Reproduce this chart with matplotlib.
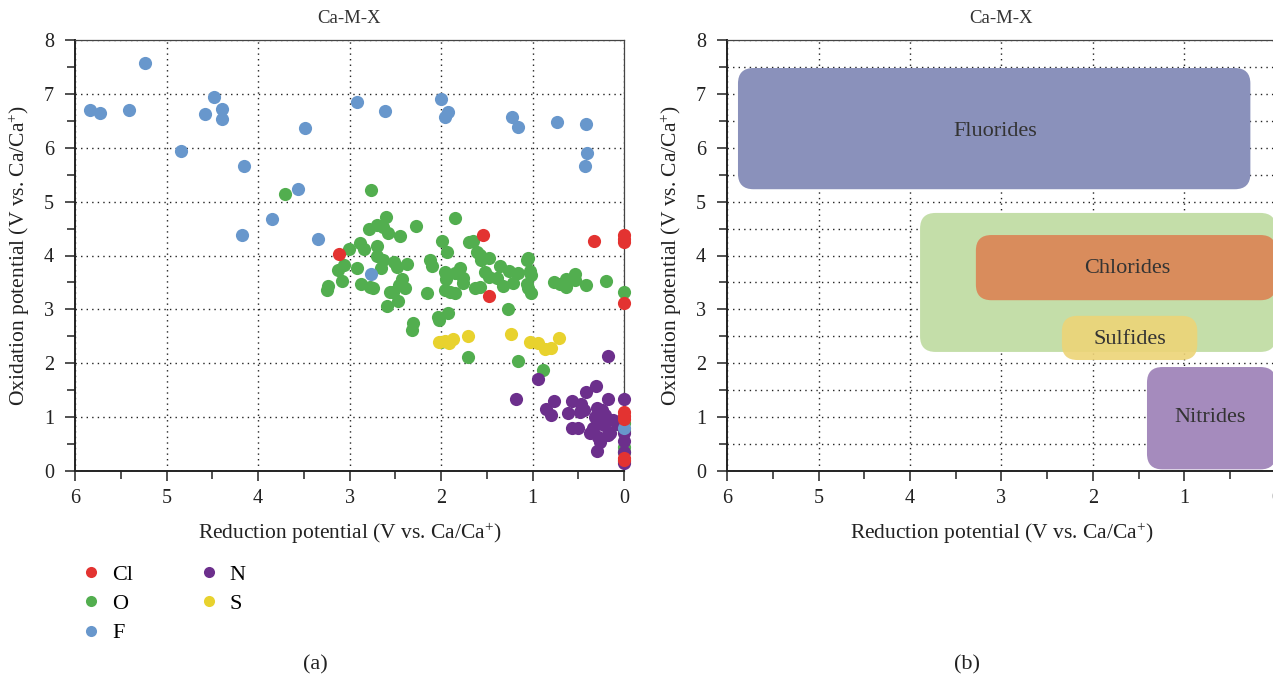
import matplotlib
matplotlib.use("Agg")
import matplotlib.pyplot as plt
from matplotlib.patches import FancyBboxPatch
from matplotlib.ticker import MultipleLocator
from matplotlib.lines import Line2D

plt.rcParams['font.family'] = ['Liberation Serif', 'DejaVu Serif']
plt.rcParams['mathtext.fontset'] = 'custom'
plt.rcParams['mathtext.rm'] = 'Liberation Serif'
plt.rcParams['mathtext.it'] = 'Liberation Serif:italic'

# --- datos (reducción, oxidación) ---
cl_x = [3.12, 1.54, 1.48, 0.33, 0.0, 0.0, 0.0, 0.0, 0.0, 0.0, 0.0, 0.0, 0.0]
cl_y = [4.03, 4.38, 3.25, 4.27, 4.38, 4.31, 4.25, 3.11, 1.10, 1.03, 0.96, 0.25, 0.20]

o_x = [2.76, 2.60, 2.79, 2.70, 2.63, 2.58, 2.45, 2.27, 1.85, 1.99, 1.93, 2.89, 2.84,
       2.70, 3.01, 2.70, 2.63, 2.66, 2.51, 2.48, 2.37, 3.06, 3.13, 2.92, 3.08, 3.23,
       3.25, 2.87, 2.78, 2.74, 2.43, 2.46, 2.39, 2.56, 2.52, 2.15, 2.59, 2.47, 2.12,
       2.10, 1.96, 1.94, 1.85, 1.79, 1.76, 1.76, 1.96, 1.90, 1.85, 1.69, 1.92, 2.03,
       2.02, 2.31, 2.32, 1.70, 1.27, 1.16, 0.89, 2.00, 1.65, 1.61, 1.57, 1.56, 1.48,
       1.52, 1.48, 1.36, 1.39, 1.26, 1.16, 1.21, 1.32, 1.63, 1.57, 1.06, 1.05, 1.03,
       1.02, 1.06, 1.05, 1.02, 0.76, 0.70, 0.63, 0.63, 0.54, 0.54, 0.42, 0.20, 0.0,
       3.70, 0.0, 0.0, 0.0, 0.0, 0.0]
o_y = [5.21, 4.72, 4.50, 4.56, 4.53, 4.41, 4.37, 4.55, 4.70, 4.27, 4.07, 4.24, 4.12,
       4.18, 4.12, 3.99, 3.91, 3.77, 3.88, 3.78, 3.85, 3.82, 3.73, 3.76, 3.53, 3.44,
       3.36, 3.48, 3.42, 3.40, 3.56, 3.46, 3.39, 3.33, 3.33, 3.30, 3.07, 3.16, 3.91,
       3.80, 3.70, 3.57, 3.67, 3.76, 3.59, 3.49, 3.36, 3.32, 3.30, 4.25, 2.94, 2.86,
       2.80, 2.74, 2.62, 2.11, 3.00, 2.04, 1.87, 2.40, 4.27, 4.07, 4.01, 3.91, 3.95,
       3.70, 3.61, 3.81, 3.59, 3.72, 3.67, 3.49, 3.43, 3.39, 3.41, 3.91, 3.95, 3.72,
       3.64, 3.48, 3.39, 3.31, 3.51, 3.48, 3.56, 3.41, 3.65, 3.54, 3.45, 3.52, 3.33,
       5.14, 0.90, 0.75, 0.45, 0.35, 0.18]

f_x = [5.84, 5.73, 5.41, 5.23, 4.84, 4.58, 4.48, 4.39, 4.39, 4.15, 4.17, 3.85, 3.56,
       3.49, 3.34, 2.92, 2.61, 2.77, 2.00, 1.96, 1.92, 1.22, 1.16, 0.73, 0.41, 0.40,
       0.43, 0.0]
f_y = [6.70, 6.64, 6.70, 7.58, 5.94, 6.62, 6.94, 6.71, 6.53, 5.67, 4.38, 4.67, 5.23,
       6.37, 4.30, 6.84, 6.68, 3.65, 6.91, 6.57, 6.67, 6.57, 6.38, 6.48, 6.44, 5.91,
       5.66, 0.80]

n_x = [0.18, 0.94, 1.18, 0.31, 0.41, 0.76, 0.57, 0.47, 0.17, 0.0, 0.85, 0.80, 0.61,
       0.48, 0.44, 0.30, 0.24, 0.21, 0.26, 0.57, 0.50, 0.30, 0.34, 0.37, 0.28, 0.26,
       0.17, 0.15, 0.29, 0.08, 0.0, 0.0, 0.0, 0.0, 0.12, 0.22, 0.32]
n_y = [2.14, 1.70, 1.34, 1.58, 1.47, 1.30, 1.30, 1.24, 1.33, 1.33, 1.15, 1.04, 1.07,
       1.10, 1.13, 1.17, 1.13, 1.04, 1.04, 0.79, 0.79, 0.88, 0.79, 0.70, 0.64, 0.54,
       0.67, 0.70, 0.37, 0.88, 0.70, 0.55, 0.35, 0.15, 0.95, 0.85, 1.00]

s_x = [2.02, 1.91, 1.87, 1.70, 1.23, 1.03, 0.94, 0.86, 0.80, 0.71, 1.96]
s_y = [2.40, 2.37, 2.45, 2.50, 2.54, 2.40, 2.38, 2.26, 2.29, 2.46, 2.42]

# regiones del panel (b)
regiones = ["Fluorides", None, "Chlorides", "Sulfides", "Nitrides"]
reg_x0 = [0.28, 0.0, 0.0, 0.86, 0.0]
reg_x1 = [5.88, 3.89, 3.28, 2.34, 1.41]
reg_y0 = [5.23, 2.21, 3.17, 2.06, 0.03]
reg_y1 = [7.48, 4.79, 4.38, 2.88, 1.93]
reg_col = ['#8a91bb', '#c4dea9', '#d98c5c', '#edd477', '#a58bbd']
reg_alpha = [1.0, 1.0, 1.0, 0.9, 1.0]
etiq_x = [3.07, None, 1.63, 1.60, 0.72]
etiq_y = [6.31, None, 3.75, 2.45, 1.00]

ROJO = '#e33331'
VERDE = '#52ae4f'
AZUL = '#6897cc'
VIOLETA = '#6c2f8c'
AMARILLO = '#e8d22e'

fig = plt.figure(figsize=(12.73, 6.8), dpi=100)
ax1 = fig.add_axes([75 / 1273, 1 - 471 / 680, 549 / 1273, 431 / 680])
ax2 = fig.add_axes([727 / 1273, 1 - 471 / 680, 549 / 1273, 431 / 680])


def estilo_ejes(ax, grid_menor_y):
    ax.set_xlim(6, 0)
    ax.set_ylim(0, 8)
    ax.xaxis.set_major_locator(MultipleLocator(1))
    ax.xaxis.set_minor_locator(MultipleLocator(0.5))
    ax.yaxis.set_major_locator(MultipleLocator(1))
    ax.yaxis.set_minor_locator(MultipleLocator(0.5))
    ax.tick_params(which='both', direction='out', labelsize=14.5, colors='#222',
                   top=False, right=False)
    ax.tick_params(which='major', length=7, width=1.1)
    ax.tick_params(which='minor', length=6, width=1.1)
    ax.tick_params(axis='x', pad=6)
    ax.tick_params(axis='y', pad=8)
    ax.grid(True, which='major', color='#222', linestyle=(0, (1, 3)), linewidth=1.0)
    if grid_menor_y:
        ax.grid(True, which='minor', axis='y', color='#222', linestyle=(0, (1, 3)), linewidth=1.0)
    ax.set_axisbelow(True)
    for lado in ['left', 'bottom']:
        ax.spines[lado].set_linewidth(1.4)
        ax.spines[lado].set_color('#222')
    for lado in ['top', 'right']:
        ax.spines[lado].set_linewidth(0.9)
        ax.spines[lado].set_color('#444')
    ax.set_title('Ca-M-X', fontsize=13.5, pad=12, color='#333')
    ax.set_xlabel('Reduction potential (V vs. Ca/Ca$^{+}$)', fontsize=15.5, labelpad=9, color='#222')
    ax.set_ylabel('Oxidation potential (V vs. Ca/Ca$^{+}$)', fontsize=15.5, labelpad=9, color='#222')


estilo_ejes(ax1, False)
estilo_ejes(ax2, True)

# --- panel (a) ---
tam = 90
ax1.scatter(o_x, o_y, s=tam, color=VERDE, linewidths=0, clip_on=False, zorder=3)
ax1.scatter(n_x, n_y, s=tam, color=VIOLETA, linewidths=0, clip_on=False, zorder=3)
ax1.scatter(s_x, s_y, s=tam, color=AMARILLO, linewidths=0, clip_on=False, zorder=4)
ax1.scatter(f_x, f_y, s=tam, color=AZUL, linewidths=0, clip_on=False, zorder=5)
ax1.scatter(cl_x, cl_y, s=tam, color=ROJO, linewidths=0, clip_on=False, zorder=5)

nombres = ['Cl', 'O', 'F', 'N', 'S']
colores = [ROJO, VERDE, AZUL, VIOLETA, AMARILLO]
manejadores = [Line2D([], [], marker='o', linestyle='', markersize=8,
                      markerfacecolor=c, markeredgewidth=0) for c in colores]
fig.legend(manejadores, nombres, ncol=2, frameon=False, fontsize=16,
           loc='upper left', bbox_to_anchor=(0.047, 0.2), columnspacing=2.9,
           handletextpad=0.45, labelspacing=0.4, handlelength=1.0)

# --- panel (b) ---
for i in range(len(regiones)):
    x0, x1 = reg_x0[i], reg_x1[i]
    y0, y1 = reg_y0[i], reg_y1[i]
    caja = FancyBboxPatch((x0, y0), x1 - x0, y1 - y0,
                          boxstyle='round,pad=0,rounding_size=0.17',
                          mutation_aspect=1.7, facecolor=reg_col[i],
                          edgecolor='none', alpha=reg_alpha[i], zorder=2 + i * 0.1)
    ax2.add_patch(caja)
    if regiones[i]:
        ax2.text(etiq_x[i], etiq_y[i], regiones[i], ha='center', va='center',
                 fontsize=16, color='#333', zorder=5)

fig.text(315 / 1273, 1 - 665 / 680, '(a)', ha='center', va='center', fontsize=16, color='#222')
fig.text(967 / 1273, 1 - 665 / 680, '(b)', ha='center', va='center', fontsize=16, color='#222')

fig.savefig('out.png', dpi=100)
